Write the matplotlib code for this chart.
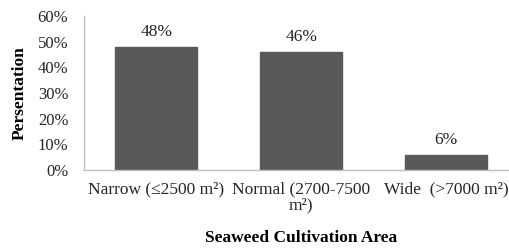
import matplotlib.pyplot as plt
import numpy as np

plt.rcParams['font.family'] = ['Liberation Serif', 'DejaVu Serif']

categories = ['Narrow (≤2500 m²)', 'Normal (2700-7500\nm²)', 'Wide  (>7000 m²)']
values = [48, 46, 6]
y_ticks = [0, 10, 20, 30, 40, 50, 60]

fig = plt.figure(figsize=(5.1, 2.48), dpi=100)
ax = fig.add_axes([0.164, 0.3145, 0.853, 0.621])

x = np.arange(len(categories))
bars = ax.bar(x, values, width=0.57, color='#595959', edgecolor='#595959')
for b, v in zip(bars, values):
    ax.annotate(f'{v}%', (b.get_x() + b.get_width() / 2, v), xytext=(0, 5),
                textcoords='offset points', ha='center', va='bottom',
                fontsize=12.5, color='#262626')

ax.set_xlim(-0.5, 2.5)
ax.set_ylim(0, 60)
ax.set_yticks(y_ticks)
ax.set_yticklabels([f'{t}%' for t in y_ticks], fontsize=12, color='#262626')
ax.set_xticks(x)
ax.set_xticklabels(categories, fontsize=12.5, color='#262626', linespacing=1.05)
ax.tick_params(axis='y', length=0, pad=11)
ax.tick_params(axis='x', length=0, pad=8)

for s in ['top', 'right']:
    ax.spines[s].set_visible(False)
for s in ['left', 'bottom']:
    ax.spines[s].set_color('#BFBFBF')
    ax.spines[s].set_linewidth(1.0)

ax.set_ylabel('Persentation', fontsize=12.5, fontweight='bold', labelpad=7)
ax.set_xlabel('Seaweed Cultivation Area', fontsize=12.5, fontweight='bold', labelpad=12)

fig.savefig('out.png', dpi=100)
